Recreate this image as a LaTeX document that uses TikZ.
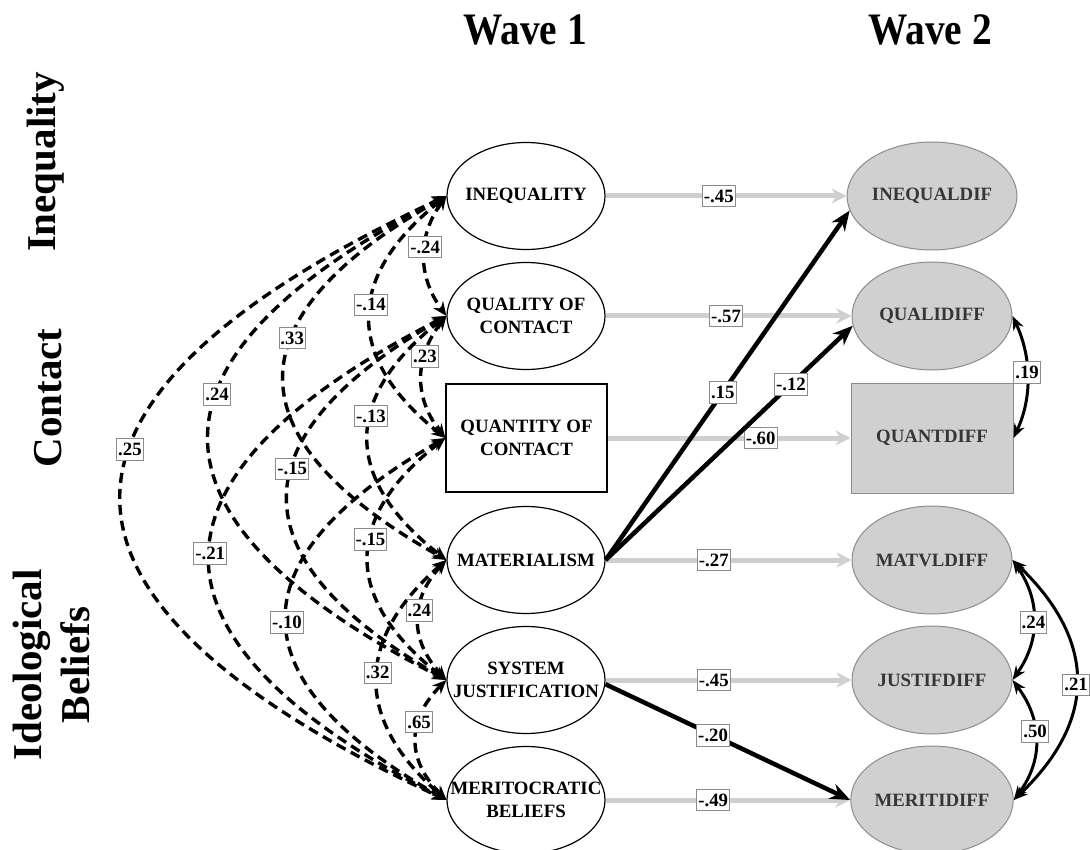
\documentclass[tikz,border=0pt]{standalone}
\usepackage{fontspec}
\setmainfont{Liberation Serif}
\newfontfamily\condfont[FakeStretch=0.875]{Liberation Serif}
\usetikzlibrary{arrows.meta,shapes.geometric}
\definecolor{arrgray}{HTML}{CFCFCF}
\definecolor{fillgray}{HTML}{D0D0D0}
\definecolor{edgegray}{HTML}{8C8C8C}
\definecolor{txtgray}{HTML}{363636}
\begin{document}
\begin{tikzpicture}[x=1pt,y=-1pt,
  nodefont/.style={font=\fontsize{18.8}{22.7}\selectfont\bfseries},
  inlbl/.style={nodefont,align=center,inner sep=0pt},
  w1ell/.style={ellipse,draw=black,line width=1.2pt,fill=white,minimum width=158pt,minimum height=107pt,inner sep=0pt},
  w1box/.style={rectangle,draw=black,line width=1.2pt,fill=white,minimum width=161pt,minimum height=108pt,inner sep=0pt,nodefont,align=center},
  w2ell/.style={ellipse,draw=edgegray,line width=1pt,fill=fillgray,minimum width=160pt,minimum height=108pt,inner sep=0pt,nodefont,text=txtgray},
  w2box/.style={rectangle,draw=edgegray,line width=1pt,fill=fillgray,minimum width=162pt,minimum height=110pt,inner sep=0pt,nodefont,text=txtgray},
  coef/.style={solid,draw=edgegray,line width=0.8pt,fill=white,inner xsep=1.5pt,inner ysep=4.5pt,font=\fontsize{18.8}{18.8}\selectfont\bfseries,text=black},
  titletext/.style={font=\condfont\fontsize{45}{50}\selectfont\bfseries},
  sidetext/.style={font=\fontsize{41}{48}\selectfont\bfseries,align=center,rotate=90},
  corr/.style={line width=3.4pt,dash pattern=on 10pt off 6pt,{Stealth[length=14pt,width=12pt]}-{Stealth[length=14pt,width=12pt]}},
  grayarr/.style={draw=arrgray,line width=5pt,-{Stealth[length=15pt,width=15pt,inset=5pt,fill=arrgray]}},
  blackarr/.style={line width=4.5pt,-{Stealth[length=20pt,width=16pt]}},
  covarr/.style={line width=3pt,{Stealth[length=14pt,width=11pt]}-{Stealth[length=14pt,width=11pt]}}
]
\useasboundingbox (0,0) rectangle (1090,850);

% titles
\node[titletext,anchor=base] (w1) at (525,45) {Wave 1};
\node[titletext,anchor=base] (w2) at (930,45) {Wave 2};
\node[sidetext] (s1) at (46,162) {Inequality};
\node[sidetext] (s2) at (48,398) {Contact};
\node[sidetext] (s3) at (51,665) {Ideological\\Beliefs};

% wave 1
\node[w1ell,label={[inlbl]center:INEQUALITY}] (A) at (526,196) {};
\node[w1ell,label={[inlbl]center:QUALITY OF\\CONTACT}] (B) at (526,316) {};
\node[w1box] (C) at (526.5,438) {QUANTITY OF\\CONTACT};
\node[w1ell,label={[inlbl]center:MATERIALISM}] (D) at (526,560) {};
\node[w1ell,label={[inlbl]center:SYSTEM\\JUSTIFICATION}] (E) at (526,680) {};
\node[w1ell,label={[inlbl]center:MERITOCRATIC\\BELIEFS}] (F) at (526,800) {};

% wave 2
\node[w2ell] (A2) at (932,196) {INEQUALDIF};
\node[w2ell] (B2) at (932,316) {QUALIDIFF};
\node[w2box] (C2) at (932,438) {QUANTDIFF};
\node[w2ell] (D2) at (932,560) {MATVLDIFF};
\node[w2ell] (E2) at (932,680) {JUSTIFDIFF};
\node[w2ell] (F2) at (932,800) {MERITIDIFF};

% stability paths
\draw[grayarr] (A) -- node[coef,pos=.47] {-.45} (A2);
\draw[grayarr] (B) -- node[coef,pos=.49] {-.57} (B2);
\draw[grayarr] (C) -- node[coef,pos=.63] {-.60} (C2);
\draw[grayarr] (D) -- node[coef,pos=.44] {-.27} (D2);
\draw[grayarr] (E) -- node[coef,pos=.44] {-.45} (E2);
\draw[grayarr] (F) -- node[coef,pos=.44] {-.49} (F2);

% cross-lagged paths
\draw[blackarr] (D.east) -- node[coef,pos=.48] {.15} (A2.190);
\draw[blackarr] (D.east) -- node[coef,pos=.75] {-.12} (B2.187);
\draw[blackarr] (E.357) -- node[coef,pos=.44] {-.20} (F2.west);

% wave 1 correlations
\draw[corr] (A.west) .. controls +(-433,201.3) and +(-433,-201.3) .. node[coef,pos=.42] {.25} (F.west);
\draw[corr] (A.west) .. controls +(-316,161.3) and +(-316,-161.3) .. node[coef,pos=.41] {.24} (E.west);
\draw[corr] (A.west) .. controls +(-216,121.3) and +(-216,-121.3) .. node[coef,pos=.39] {.33} (D.west);
\draw[corr] (A.west) .. controls +(-101,80.7) and +(-101,-80.7) .. node[coef,pos=.45] {-.14} (C.west);
\draw[corr] (A.west) .. controls +(-29,40) and +(-29,-40) .. node[coef,pos=.425] {-.24} (B.west);
\draw[corr] (B.west) .. controls +(-32,40.7) and +(-32,-40.7) .. node[coef,pos=.33] {.23} (C.west);
\draw[corr] (B.west) .. controls +(-104,81.3) and +(-104,-81.3) .. node[coef,pos=.41] {-.13} (D.west);
\draw[corr] (B.west) .. controls +(-211,121.3) and +(-211,-121.3) .. node[coef,pos=.42] {-.15} (E.west);
\draw[corr] (B.west) .. controls +(-315,161.3) and +(-315,-161.3) .. node[coef,pos=.49] {-.21} (F.west);
\draw[corr] (C.west) .. controls +(-103,80.7) and +(-103,-80.7) .. node[coef,pos=.42] {-.15} (E.west);
\draw[corr] (C.west) .. controls +(-212,120.7) and +(-212,-120.7) .. node[coef,pos=.51] {-.10} (F.west);
\draw[corr] (D.west) .. controls +(-37,40) and +(-37,-40) .. node[coef,pos=.42] {.24} (E.west);
\draw[corr] (D.west) .. controls +(-92,80) and +(-92,-80) .. node[coef,pos=.47] {.32} (F.west);
\draw[corr] (E.west) .. controls +(-40,40) and +(-40,-40) .. node[coef,pos=.35] {.65} (F.west);

% wave 2 covariances
\draw[covarr] (B2.east) .. controls +(19,40.7) and +(19,-40.7) .. node[coef,pos=.46] {.19} (C2.east);
\draw[covarr] (D2.east) .. controls +(28,40) and +(28,-40) .. node[coef,pos=.52] {.24} (E2.east);
\draw[covarr] (E2.east) .. controls +(30,40) and +(30,-40) .. node[coef,pos=.43] {.50} (F2.east);
\draw[covarr] (D2.east) .. controls +(84,80) and +(84,-80) .. node[coef,pos=.52] {.21} (F2.east);
\end{tikzpicture}
\end{document}
